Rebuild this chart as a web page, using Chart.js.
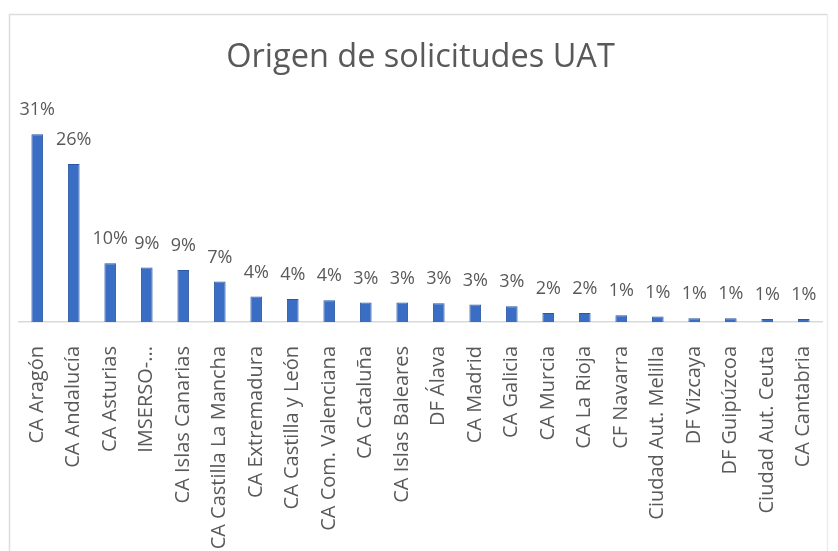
<!DOCTYPE html>
<html>
<head>
<meta charset="utf-8">
<script src="https://cdn.jsdelivr.net/npm/chart.js@4"></script>
<style>
html,body{margin:0;padding:0;background:#fff;}
#wrap{width:838px;height:551px;position:relative;}
</style>
</head>
<body>
<div id="wrap"><canvas id="c" width="838" height="551"></canvas></div>
<script>
const categories = [
  "CA Aragón", "CA Andalucía", "CA Asturias", "IMSERSO-...", "CA Islas Canarias",
  "CA Castilla La Mancha", "CA Extremadura", "CA Castilla y León", "CA Com. Valenciana",
  "CA Cataluña", "CA Islas Baleares", "DF Álava", "CA Madrid", "CA Galicia", "CA Murcia",
  "CA La Rioja", "CF Navarra", "Ciudad Aut. Melilla", "DF Vizcaya", "DF Guipúzcoa",
  "Ciudad Aut. Ceuta", "CA Cantabria"
];
const values = [31.0, 26.1, 9.7, 9.0, 8.6, 6.7, 4.2, 3.8, 3.6, 3.2, 3.2, 3.1, 2.9, 2.6, 1.5, 1.5, 1.1, 0.9, 0.6, 0.6, 0.5, 0.5];
const valueLabels = ["31%", "26%", "10%", "9%", "9%", "7%", "4%", "4%", "4%", "3%", "3%", "3%", "3%", "3%", "2%", "2%", "1%", "1%", "1%", "1%", "1%", "1%"];
const titleText = "Origen de solicitudes UAT";

const FONT = "'Open Sans', 'Noto Sans', sans-serif";
const TEXT = "#595959";

const framePlugin = {
  id: 'frame',
  beforeDraw(chart) {
    const ctx = chart.ctx;
    ctx.save();
    ctx.fillStyle = '#ffffff';
    ctx.fillRect(0, 0, chart.width, chart.height);
    ctx.strokeStyle = '#dcdcdc';
    ctx.lineWidth = 1.5;
    ctx.beginPath();
    ctx.moveTo(9.5, chart.height + 5);
    ctx.lineTo(9.5, 14.5);
    ctx.lineTo(827.5, 14.5);
    ctx.stroke();
    ctx.strokeStyle = '#ececec';
    ctx.beginPath();
    ctx.moveTo(827.5, 14.5);
    ctx.lineTo(827.5, chart.height + 5);
    ctx.stroke();
    ctx.restore();
  }
};

const labelPlugin = {
  id: 'valueLabels',
  afterDatasetsDraw(chart) {
    const ctx = chart.ctx;
    const meta = chart.getDatasetMeta(0);
    ctx.save();
    ctx.font = "18px " + FONT;
    ctx.fillStyle = TEXT;
    ctx.textAlign = 'center';
    ctx.textBaseline = 'middle';
    meta.data.forEach((bar, i) => {
      ctx.fillText(valueLabels[i], bar.x, bar.y - 24);
    });
    ctx.restore();
  }
};

new Chart(document.getElementById('c'), {
  type: 'bar',
  data: {
    labels: categories,
    datasets: [{
      data: values,
      backgroundColor: '#3a6dc4',
      borderColor: '#2c58a2',
      borderWidth: 1,
      barPercentage: 0.32,
      categoryPercentage: 1
    }]
  },
  options: {
    responsive: false,
    animation: false,
    devicePixelRatio: 1,
    layout: { padding: { left: 19, right: 16, top: 20, bottom: 0 } },
    plugins: {
      legend: { display: false },
      tooltip: { enabled: false },
      title: {
        display: true,
        text: titleText,
        color: TEXT,
        font: { family: FONT, size: 32.5, weight: 'normal', lineHeight: 1.2 },
        padding: { top: 18, bottom: 33 }
      }
    },
    scales: {
      x: {
        grid: { display: false },
        border: { display: true, color: '#d9d9d9', width: 1.5 },
        ticks: {
          color: TEXT,
          font: { family: FONT, size: 20 },
          minRotation: 90,
          maxRotation: 90,
          autoSkip: false,
          padding: 16
        },
        afterFit(scale) {
          scale.height = 229;
          scale.paddingLeft = 0;
          scale.paddingRight = 0;
        }
      },
      y: {
        display: false,
        min: 0,
        max: 35
      }
    }
  },
  plugins: [framePlugin, labelPlugin]
});
</script>
</body>
</html>
